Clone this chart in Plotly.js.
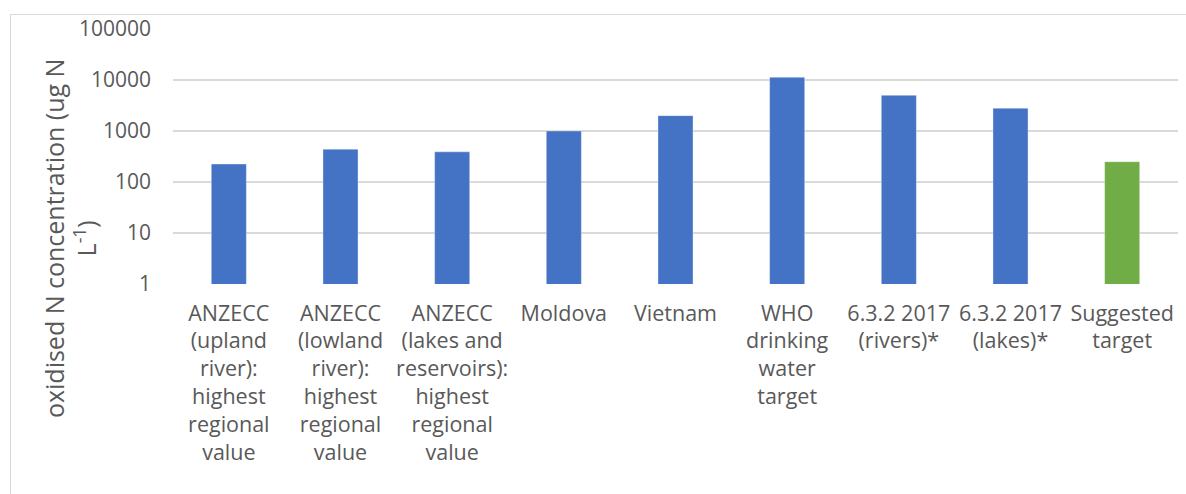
<!DOCTYPE html>
<html>
<head>
<meta charset="utf-8">
<script src="https://cdn.plot.ly/plotly-3.0.1.min.js"></script>
<style>
  html, body { margin: 0; padding: 0; background: #fff; }
  #wrap { position: relative; width: 1186px; height: 494px; }
  #frame { position: absolute; left: 10px; top: 14px; right: -2px; bottom: -2px; border: 1px solid #d9d9d9; box-sizing: border-box; pointer-events: none; }
  #chart { position: absolute; left: 0; top: 0; width: 1186px; height: 494px; }
</style>
</head>
<body>
<div id="wrap">
  <div id="chart"></div>
  <div id="frame"></div>
</div>
<script>
const categories = [
  "ANZECC<br>(upland<br>river):<br>highest<br>regional<br>value",
  "ANZECC<br>(lowland<br>river):<br>highest<br>regional<br>value",
  "ANZECC<br>(lakes and<br>reservoirs):<br>highest<br>regional<br>value",
  "Moldova",
  "Vietnam",
  "WHO<br>drinking<br>water<br>target",
  "6.3.2 2017<br>(rivers)*",
  "6.3.2 2017<br>(lakes)*",
  "Suggested<br>target"
];
const values = [225, 440, 390, 1000, 2000, 11300, 5000, 2800, 250];
const barColors = ["#4472C4","#4472C4","#4472C4","#4472C4","#4472C4","#4472C4","#4472C4","#4472C4","#70AD47"];
const yTickVals = [1, 10, 100, 1000, 10000, 100000];
const yTickText = ["1", "10", "100", "1000", "10000", "100000"];
const yTitle = "oxidised N concentration (ug N<br>L<sup>-1</sup>)";

const trace = {
  type: "bar",
  x: categories,
  y: values,
  marker: { color: barColors, line: { color: "rgba(255,255,255,0.35)", width: 1 } },
  hoverinfo: "x+y"
};

const layout = {
  width: 1186,
  height: 494,
  margin: { l: 173, r: 8, t: 29, b: 210 },
  paper_bgcolor: "#ffffff",
  plot_bgcolor: "#ffffff",
  font: { family: "Open Sans, sans-serif", color: "#595959", size: 20 },
  bargap: 0.686,
  showlegend: false,
  xaxis: {
    type: "category",
    tickfont: { size: 21.5, color: "#595959" },
    showgrid: false,
    showline: false,
    ticks: "",
    tickangle: 0,
    ticklabelstandoff: 14,
    automargin: false
  },
  yaxis: {
    type: "log",
    range: [0, 5],
    tickvals: yTickVals,
    ticktext: yTickText,
    tickfont: { size: 21, color: "#595959" },
    showgrid: true,
    gridcolor: "#d9d9d9",
    gridwidth: 1.5,
    zeroline: false,
    showline: false,
    ticks: "",
    ticklen: 0,
    ticklabelstandoff: 21,
    automargin: false
  },
  annotations: [{
    text: yTitle,
    xref: "paper", yref: "paper",
    x: -0.1025, y: 0.18,
    xanchor: "center", yanchor: "middle",
    textangle: -90,
    showarrow: false,
    align: "center",
    font: { size: 25, color: "#595959" }
  }]
};

Plotly.newPlot("chart", [trace], layout, { displayModeBar: false, staticPlot: true });
</script>
</body>
</html>
